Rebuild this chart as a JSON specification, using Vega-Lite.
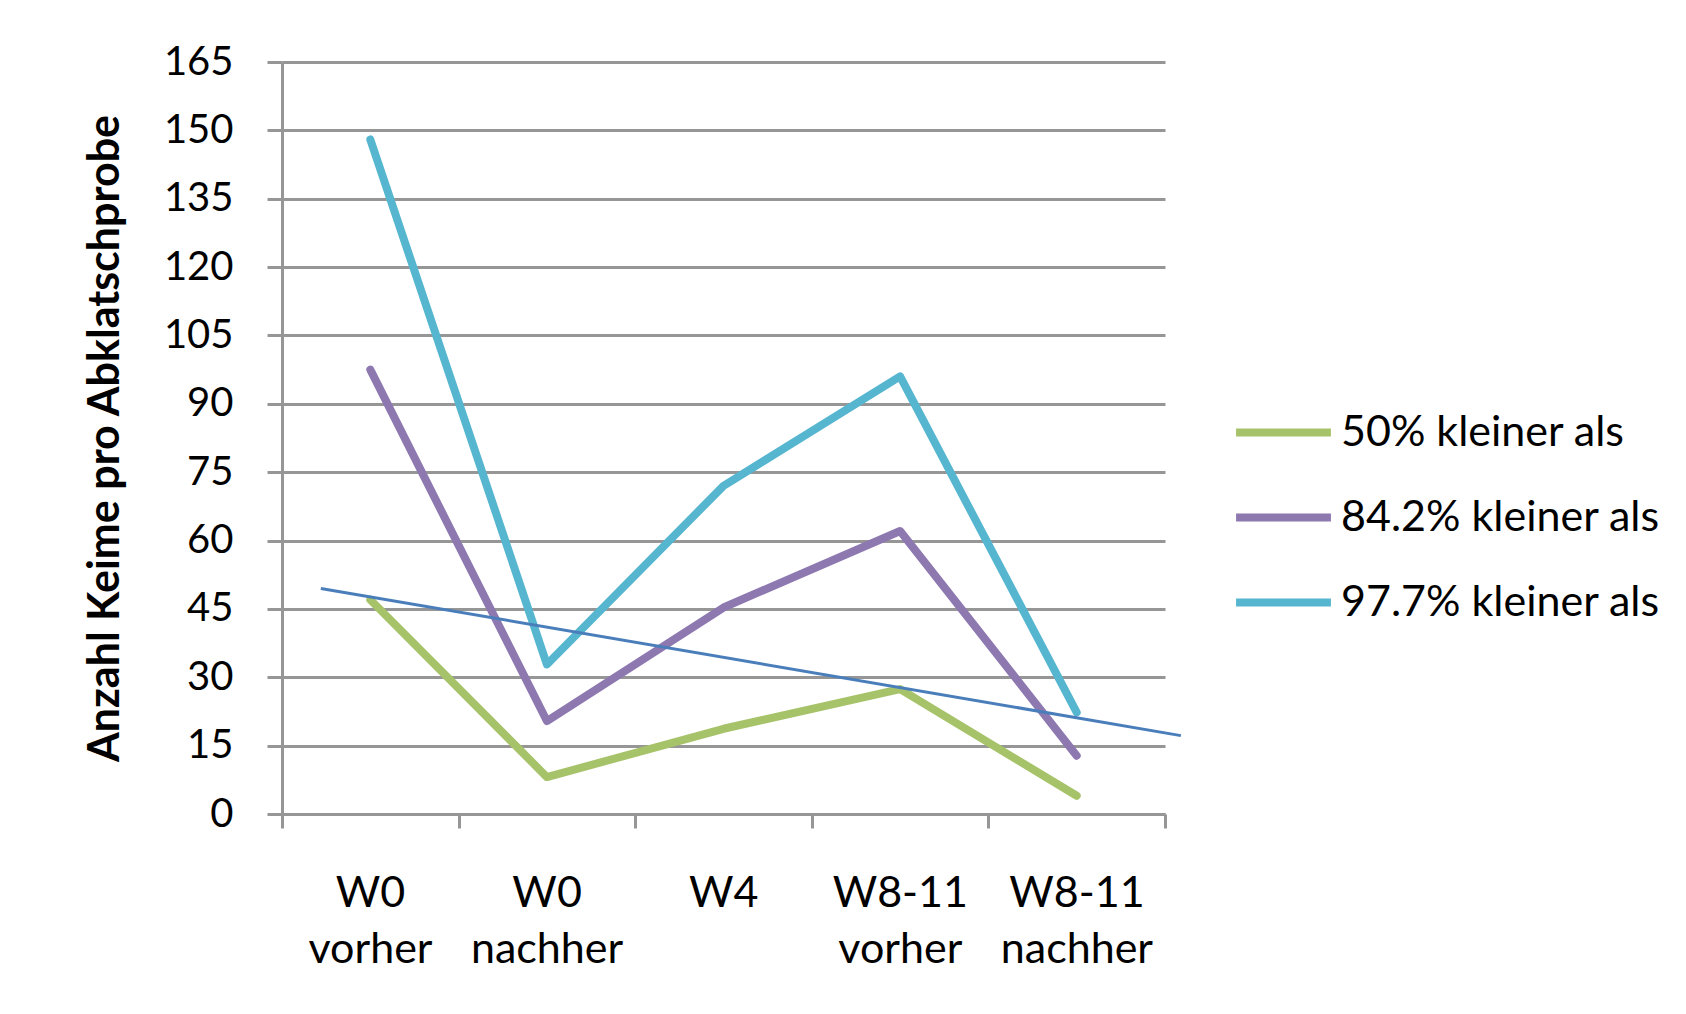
{
  "$schema": "https://vega.github.io/schema/vega-lite/v6.json",
  "autosize": "none",
  "width": 883,
  "height": 752,
  "padding": {"left": 282, "top": 62, "right": 521, "bottom": 200},
  "background": "white",
  "config": {"view": {"stroke": null}, "font": "Lato"},
  "datasets": {
    "series": [
      {"i": 0, "s": "50% kleiner als", "v": 47.0},
      {"i": 1, "s": "50% kleiner als", "v": 8.1},
      {"i": 2, "s": "50% kleiner als", "v": 18.7},
      {"i": 3, "s": "50% kleiner als", "v": 27.4},
      {"i": 4, "s": "50% kleiner als", "v": 4.0},
      {"i": 0, "s": "84.2% kleiner als", "v": 97.5},
      {"i": 1, "s": "84.2% kleiner als", "v": 20.4},
      {"i": 2, "s": "84.2% kleiner als", "v": 45.3},
      {"i": 3, "s": "84.2% kleiner als", "v": 62.1},
      {"i": 4, "s": "84.2% kleiner als", "v": 12.8},
      {"i": 0, "s": "97.7% kleiner als", "v": 148.0},
      {"i": 1, "s": "97.7% kleiner als", "v": 32.8},
      {"i": 2, "s": "97.7% kleiner als", "v": 72.0},
      {"i": 3, "s": "97.7% kleiner als", "v": 96.0},
      {"i": 4, "s": "97.7% kleiner als", "v": 22.3}
    ],
    "trend": [
      {"x": -0.28, "y": 49.5},
      {"x": 4.59, "y": 17.2}
    ]
  },
  "layer": [
    {
      "data": {"name": "series"},
      "mark": {"type": "line", "strokeWidth": 8, "strokeCap": "round", "strokeJoin": "round"},
      "encoding": {
        "x": {
          "field": "i",
          "type": "quantitative",
          "scale": {"domain": [-0.5, 4.5], "nice": false, "zero": false},
          "axis": {
            "title": null,
            "values": [-0.5, 0.5, 1.5, 2.5, 3.5, 4.5],
            "grid": false,
            "domainColor": "#969696",
            "domainWidth": 3,
            "tickColor": "#969696",
            "tickWidth": 3,
            "tickSize": 14,
            "labelOffset": 88,
            "labelPadding": 44,
            "labelBaseline": "top",
            "labelAlign": "center",
            "labelFontSize": 43,
            "labelColor": "#000000",
            "labelLineHeight": 56,
            "labelOverlap": false,
            "labelFlush": false,
            "labelBound": false,
            "labelExpr": "datum.value < 0 ? ['W0', 'vorher'] : datum.value < 1 ? ['W0', 'nachher'] : datum.value < 2 ? 'W4' : datum.value < 3 ? ['W8-11', 'vorher'] : datum.value < 4 ? ['W8-11', 'nachher'] : ''"
          }
        },
        "y": {
          "field": "v",
          "type": "quantitative",
          "scale": {"domain": [0, 165], "nice": false},
          "axis": {
            "title": "Anzahl Keime pro Abklatschprobe",
            "titleFontSize": 43,
            "titleFontWeight": "bold",
            "titleColor": "#000000",
            "titlePadding": 36,
            "values": [0, 15, 30, 45, 60, 75, 90, 105, 120, 135, 150, 165],
            "grid": true,
            "gridColor": "#969696",
            "gridWidth": 3,
            "domainColor": "#969696",
            "domainWidth": 3,
            "tickColor": "#969696",
            "tickWidth": 3,
            "tickSize": 15,
            "labelPadding": 34,
            "labelFontSize": 40,
            "labelColor": "#000000",
            "labelOverlap": false,
            "labelFlush": false,
            "labelBound": false
          }
        },
        "color": {
          "field": "s",
          "type": "nominal",
          "scale": {
            "domain": ["50% kleiner als", "84.2% kleiner als", "97.7% kleiner als"],
            "range": ["#A6C36A", "#8E78B0", "#56B6CF"]
          },
          "legend": {
            "title": null,
            "orient": "none",
            "legendX": 950,
            "legendY": 319,
            "symbolType": "stroke",
            "symbolSize": 9000,
            "symbolStrokeWidth": 8,
            "labelFontSize": 43,
            "labelColor": "#000000",
            "labelOffset": 6,
            "rowPadding": 11,
            "labelLimit": 600
          }
        }
      }
    },
    {
      "data": {"name": "trend"},
      "mark": {"type": "line", "strokeWidth": 3, "color": "#4A7EBB", "clip": false},
      "encoding": {
        "x": {"field": "x", "type": "quantitative"},
        "y": {"field": "y", "type": "quantitative"}
      }
    }
  ]
}
